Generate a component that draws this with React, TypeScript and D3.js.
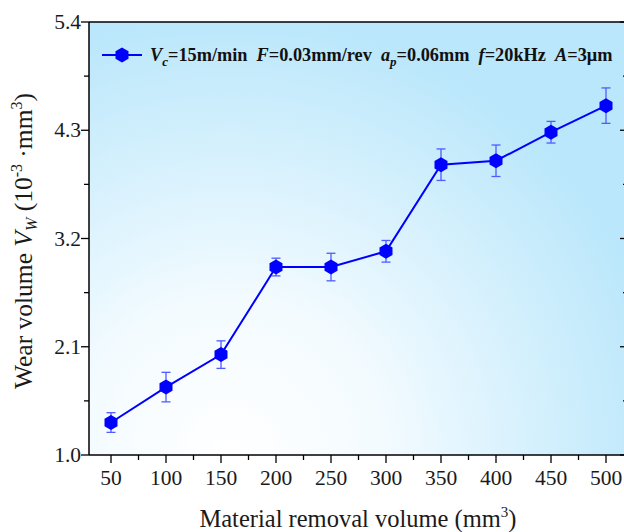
import React from "react";
import * as d3 from "d3";

const removalVolume = [50, 100, 150, 200, 250, 300, 350, 400, 450, 500];
const wearVolume = [1.33, 1.69, 2.02, 2.91, 2.91, 3.07, 3.95, 3.99, 4.28, 4.55];
const wearError = [0.1, 0.15, 0.14, 0.09, 0.14, 0.11, 0.16, 0.16, 0.11, 0.18];
const xTicks = [50, 100, 150, 200, 250, 300, 350, 400, 450, 500];
const xMinorTicks = [75, 125, 175, 225, 275, 325, 375, 425, 475];
const yTicks = [1.0, 2.1, 3.2, 4.3, 5.4];
const yMinorTicks = [1.55, 2.65, 3.75, 4.85];

const W = 624;
const H = 532;
const L = 89;
const R = 628;
const T = 22;
const B = 455;

const x = d3.scaleLinear().domain([30, 520]).range([L, R]);
const y = d3.scaleLinear().domain([1.0, 5.4]).range([B, T]);

function hexPath(cx: number, cy: number, r: number) {
  const pts = d3.range(6).map((i) => {
    const a = (Math.PI / 3) * i - Math.PI / 2;
    return [cx + r * Math.cos(a), cy + r * Math.sin(a)];
  });
  return "M" + pts.map((p) => p.join(",")).join("L") + "Z";
}

export default function App() {
  const line = d3
    .line<number>()
    .x((_, i) => x(removalVolume[i]))
    .y((d) => y(d));
  const font = "'Liberation Serif', 'Times New Roman', serif";
  const blue = "#0000ff";
  const errColor = "#4f5cff";
  return (
    <svg
      width={W}
      height={H}
      style={{ position: "absolute", left: 0, top: 0, display: "block" }}
      fontFamily={font}
    >
      <defs>
        <radialGradient
          id="bg"
          gradientUnits="userSpaceOnUse"
          cx={230}
          cy={455}
          r={440}
        >
          <stop offset="0" stopColor="#ffffff" />
          <stop offset="0.35" stopColor="#f3fbff" />
          <stop offset="1" stopColor="#bae7fb" />
        </radialGradient>
        <clipPath id="plot">
          <rect x={L} y={T} width={R - L} height={B - T} />
        </clipPath>
      </defs>
      <rect x={0} y={0} width={W} height={H} fill="#ffffff" />
      <rect x={L} y={T} width={R - L} height={B - T} fill="url(#bg)" />

      {/* error bars */}
      <g clipPath="url(#plot)">
        {wearVolume.map((v, i) => {
          const cx = x(removalVolume[i]);
          const y1 = y(v + wearError[i]);
          const y2 = y(v - wearError[i]);
          return (
            <g key={"e" + i} stroke={errColor} strokeWidth={1.3}>
              <line x1={cx} x2={cx} y1={y1} y2={y2} />
              <line x1={cx - 4.5} x2={cx + 4.5} y1={y1} y2={y1} />
              <line x1={cx - 4.5} x2={cx + 4.5} y1={y2} y2={y2} />
            </g>
          );
        })}
        <path d={line(wearVolume) || ""} fill="none" stroke={blue} strokeWidth={2} />
        {wearVolume.map((v, i) => (
          <path key={"m" + i} d={hexPath(x(removalVolume[i]), y(v), 7.5)} fill={blue} />
        ))}
      </g>

      {/* spines */}
      <g stroke="#000" strokeWidth={1.5} fill="none">
        <line x1={L} x2={R} y1={T} y2={T} />
        <line x1={L} x2={R} y1={B} y2={B} />
        <line x1={L} x2={L} y1={T} y2={B} />
        <line x1={R} x2={R} y1={T} y2={B} />
      </g>

      {/* ticks */}
      <g stroke="#000" strokeWidth={1.3}>
        {xTicks.map((t) => (
          <line key={"xt" + t} x1={x(t)} x2={x(t)} y1={B} y2={B + 8} />
        ))}
        {xMinorTicks.map((t) => (
          <line key={"xm" + t} x1={x(t)} x2={x(t)} y1={B} y2={B + 5} />
        ))}
        {yTicks.map((t) => (
          <line key={"yt" + t} x1={L - 8} x2={L} y1={y(t)} y2={y(t)} />
        ))}
        {yMinorTicks.map((t) => (
          <line key={"ym" + t} x1={L - 5} x2={L} y1={y(t)} y2={y(t)} />
        ))}
        {yTicks.map((t) => (
          <line key={"yr" + t} x1={R - 8} x2={R} y1={y(t)} y2={y(t)} />
        ))}
        {yMinorTicks.map((t) => (
          <line key={"yrm" + t} x1={R - 5} x2={R} y1={y(t)} y2={y(t)} />
        ))}
      </g>

      {/* tick labels */}
      <g fontSize={21.5} fill="#1a1a1a">
        {xTicks.map((t) => (
          <text key={"xl" + t} x={x(t)} y={B + 30} textAnchor="middle">
            {t}
          </text>
        ))}
        {yTicks.map((t) => (
          <text key={"yl" + t} x={L - 8} y={y(t) + 7} textAnchor="end">
            {d3.format(".1f")(t)}
          </text>
        ))}
      </g>

      {/* axis titles */}
      <text x={358} y={527} textAnchor="middle" fontSize={24.5} fill="#1a1a1a">
        Material removal volume (mm
        <tspan fontSize={15} dy={-10}>3</tspan>
        <tspan dy={10}>)</tspan>
      </text>
      <text
        transform={`translate(32, 241) rotate(-90)`}
        textAnchor="middle"
        fontSize={25.5}
        fill="#1a1a1a"
        style={{ whiteSpace: "pre" }}
      >
        Wear volume <tspan fontStyle="italic">V</tspan>
        <tspan fontStyle="italic" fontSize={16} dy={5}>W</tspan>
        <tspan dy={-5}> (10</tspan>
        <tspan fontSize={16} dy={-10}>-3</tspan>
        <tspan dy={10}> ·mm</tspan>
        <tspan fontSize={16} dy={-10}>3</tspan>
        <tspan dy={10}>)</tspan>
      </text>

      {/* legend */}
      <line x1={102} x2={142} y1={55} y2={55} stroke={blue} strokeWidth={2} />
      <path d={hexPath(122, 55, 7.5)} fill={blue} />
      <text x={150} y={61} fontSize={18.3} fontWeight="bold" fill="#111" style={{ whiteSpace: "pre" }}>
        <tspan fontStyle="italic">V</tspan>
        <tspan fontStyle="italic" fontSize={13} dy={5}>c</tspan>
        <tspan dy={-5}>=15m/min  </tspan>
        <tspan fontStyle="italic">F</tspan>
        <tspan>=0.03mm/rev  </tspan>
        <tspan fontStyle="italic">a</tspan>
        <tspan fontStyle="italic" fontSize={13} dy={5}>p</tspan>
        <tspan dy={-5}>=0.06mm  </tspan>
        <tspan fontStyle="italic">f</tspan>
        <tspan>=20kHz  </tspan>
        <tspan fontStyle="italic">A</tspan>
        <tspan>=3μm</tspan>
      </text>
    </svg>
  );
}
